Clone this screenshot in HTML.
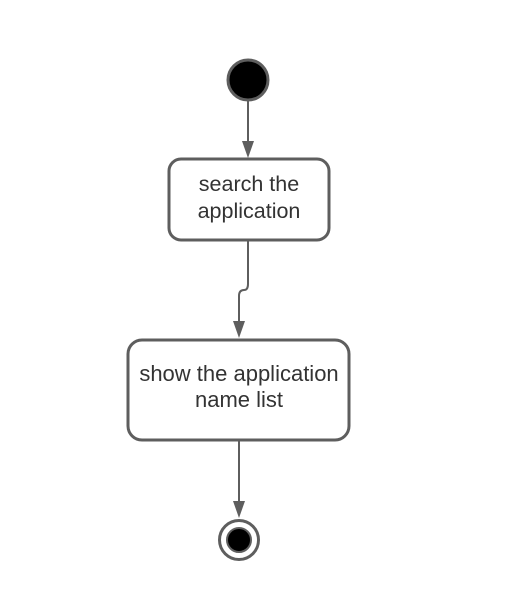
<!DOCTYPE html>
<html><head><style>html,body{margin:0;padding:0;background:#fff;}</style></head>
<body>
<svg width="510" height="610" xmlns="http://www.w3.org/2000/svg" font-family="Liberation Sans, sans-serif">
<rect width="510" height="610" fill="#fff"/>
<circle cx="248" cy="80" r="20" fill="#000" stroke="#5e5e5e" stroke-width="3"/>
<line x1="248" y1="101" x2="248" y2="142" stroke="#5e5e5e" stroke-width="2"/>
<polygon points="242,141 254,141 248,158" fill="#5e5e5e"/>
<rect x="169" y="159" width="160" height="81" rx="12" fill="#fff" stroke="#5e5e5e" stroke-width="3"/>
<text x="249" y="191" font-size="21.5" fill="#333" text-anchor="middle">search the</text>
<text x="249" y="218" font-size="21.5" fill="#333" text-anchor="middle">application</text>
<path d="M248,241 L248,284 Q248,290 244,290 Q239,290 239,296 L239,322" fill="none" stroke="#5e5e5e" stroke-width="2"/>
<polygon points="233,321 245,321 239,338" fill="#5e5e5e"/>
<rect x="128" y="340" width="221" height="100" rx="14" fill="#fff" stroke="#5e5e5e" stroke-width="3"/>
<text x="239" y="381" font-size="22" fill="#333" text-anchor="middle">show the application</text>
<text x="239" y="407" font-size="22" fill="#333" text-anchor="middle">name list</text>
<line x1="239" y1="441" x2="239" y2="502" stroke="#5e5e5e" stroke-width="2"/>
<polygon points="233,501 245,501 239,518" fill="#5e5e5e"/>
<circle cx="239" cy="540" r="19.5" fill="#fff" stroke="#5e5e5e" stroke-width="3"/>
<circle cx="239" cy="540" r="12" fill="#000" stroke="#5e5e5e" stroke-width="2"/>
</svg>
</body></html>
